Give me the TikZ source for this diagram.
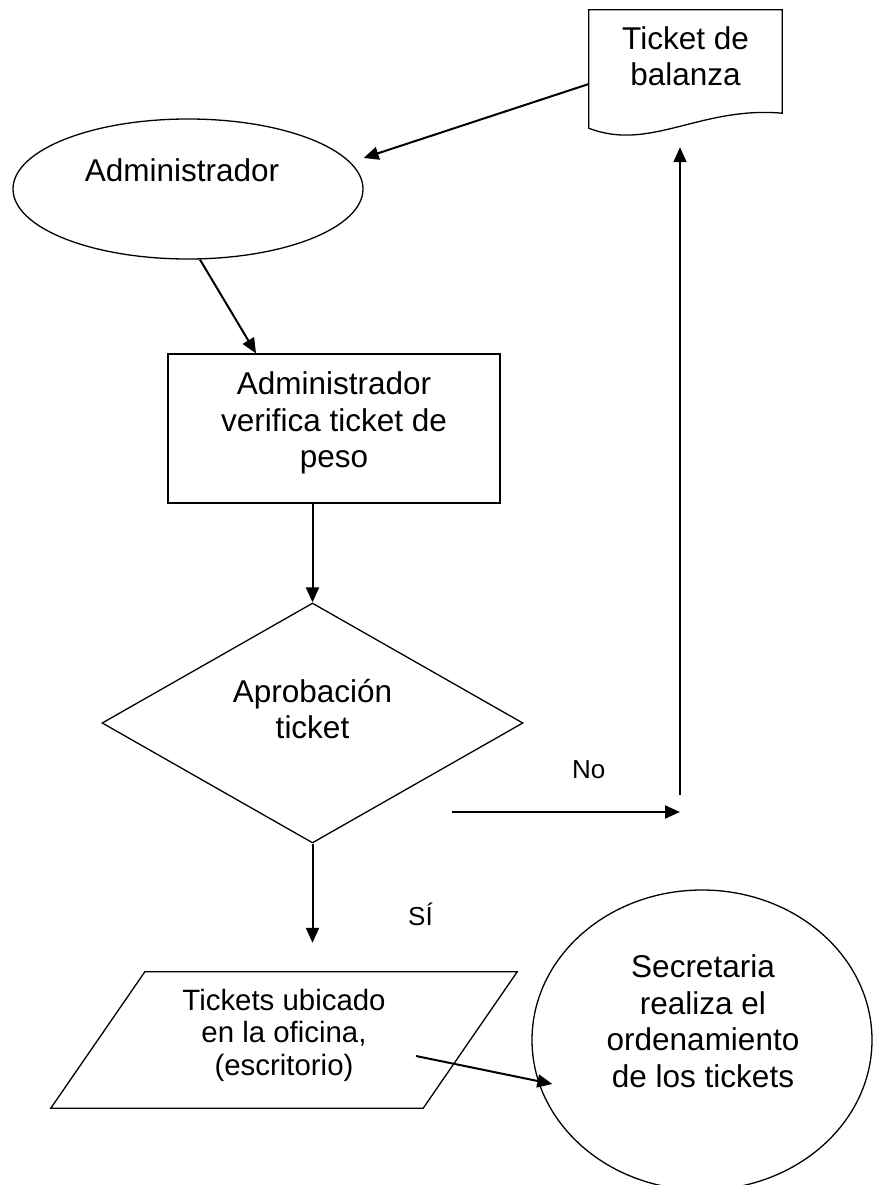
\documentclass[tikz,border=0pt]{standalone}
\usepackage{fontspec}
\setmainfont{Liberation Sans}
\usetikzlibrary{shapes.geometric,arrows.meta,positioning}

\begin{document}
\begin{tikzpicture}[x=1pt,y=-1pt,on grid,
    font=\fontsize{31.5pt}{36.5pt}\selectfont,
    every label/.style={align=center},
    doc/.style={minimum width=193pt,minimum height=118pt,inner sep=0pt},
    term/.style={draw,ellipse,line width=1.3pt,minimum width=350pt,minimum height=140pt},
    proc/.style={draw,rectangle,line width=1.3pt,minimum width=332pt,minimum height=149pt},
    decis/.style={draw,diamond,line width=1.3pt,inner sep=0pt,minimum width=421pt,minimum height=240pt},
    io/.style={rectangle,inner sep=0pt,minimum width=372pt,minimum height=136pt},
    circ/.style={draw,ellipse,line width=1.3pt,minimum width=340pt,minimum height=300pt},
    flecha/.style={line width=2pt,-{Triangle[length=15pt,width=13pt]}},
    etiq/.style={font=\fontsize{26pt}{30pt}\selectfont}]
                            \useasboundingbox (0,0) rectangle (879,1185);
                            \node[term, label={[xshift=-6pt,yshift=19pt]center:Administrador}] (Admin) at (188,189) {};
                            \node[doc, label={[yshift=13pt]center:Ticket de\\balanza}] (Doc) [above right=120pt and 497.5pt of Admin] {};
                            \node[proc, label={[yshift=5.5pt]center:Administrador\\verifica ticket de\\peso}] (Verif) [below right=239.5pt and 146pt of Admin] {};
                            \node[decis, label={[yshift=14pt]center:Aprobación\\ticket}] (Aprob) [below left=294.5pt and 21.5pt of Verif] {};
                            \node[io, label={[yshift=5pt,font=\fontsize{29.4pt}{32.5pt}\selectfont]center:Tickets ubicado\\en la oficina,\\(escritorio)}] (Tick) [below left=317pt and 28.5pt of Aprob] {};
                            \node[circ, label={[xshift=1pt,yshift=19pt]center:Secretaria\\realiza el\\ordenamiento\\de los tickets}] (Secr) [right=418pt of Tick] {};
                            % hoja del ticket
                            \draw[line width=1.3pt] (Doc.north west) -- (Doc.north east) -- ([yshift=15pt]Doc.south east)
                                .. controls (700,106) and (650,152) .. (Doc.south west) -- cycle;
                            % paralelogramo de entrada
                            \draw[line width=1.3pt] ([xshift=47pt]Tick.north west) -- ([xshift=47pt]Tick.north east)
                                -- ([xshift=-47pt]Tick.south east) -- ([xshift=-47pt]Tick.south west) -- cycle;
                            \coordinate (noIni) at (452,812);
                            \coordinate (retorno) at (680,795);
                            \path[flecha]
                            ([yshift=-15pt]Doc.west) edge ([yshift=31pt]Admin.east)
                            ([xshift=12pt]Admin.south) edge ([xshift=-78pt]Verif.north)
                            (Verif.south -| Aprob.north) edge (Aprob.north)
                            (Aprob.south) edge [shorten >=29pt] node[etiq, pos=0.55, xshift=108pt] {SÍ} (Aprob.south |- Tick.north)
                            (noIni) edge node[etiq, pos=0.6, yshift=42pt] {No} (noIni -| retorno)
                            (retorno) edge [shorten >=19pt] (retorno |- Doc.south)
                            ([shift={(132,16)}]Tick.center) edge ([shift={(21,44)}]Secr.west);
                        \end{tikzpicture}
\end{document}
